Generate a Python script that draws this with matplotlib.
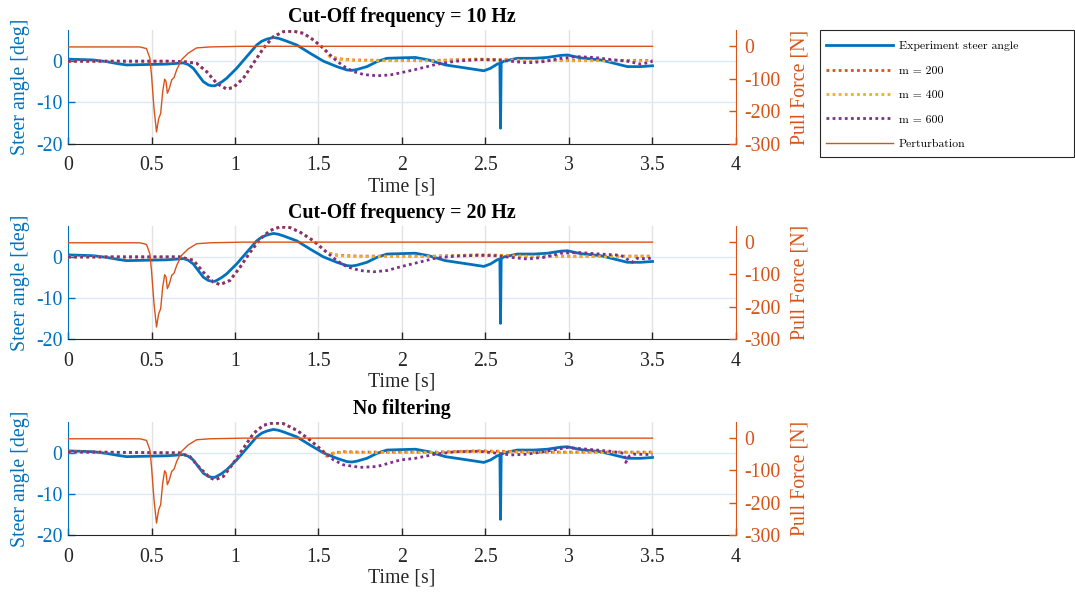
import matplotlib
matplotlib.use("Agg")
import matplotlib.pyplot as plt
from matplotlib.patches import Rectangle

plt.rcParams['font.family'] = ['Liberation Serif', 'DejaVu Serif']
plt.rcParams['axes.unicode_minus'] = False

# ---------------- data ----------------
titles = ["Cut-Off frequency = 10 Hz", "Cut-Off frequency = 20 Hz", "No filtering"]
legend_labels = ["Experiment steer angle", "m = 200", "m = 400", "m = 600", "Perturbation"]
x_ticks = [0, 0.5, 1, 1.5, 2, 2.5, 3, 3.5, 4]
x_tick_labels = ["0", "0.5", "1", "1.5", "2", "2.5", "3", "3.5", "4"]
left_ticks = [-20, -10, 0]
right_ticks = [-300, -200, -100, 0]

t_exp = [0, .15, .23, .30, .35, .47, .59, .66, .69, .72, .75, .78, .81, .84, .86, .88, .89,
         .92, .95, 1.01, 1.07, 1.13, 1.16, 1.19, 1.23, 1.26, 1.29, 1.37, 1.45, 1.53, 1.61,
         1.67, 1.70, 1.73, 1.79, 1.85, 1.91, 1.99, 2.08, 2.16, 2.26, 2.36, 2.49, 2.53, 2.57,
         2.586, 2.59, 2.594, 2.61, 2.69, 2.79, 2.87, 2.95, 2.99, 3.07, 3.19, 3.27, 3.35, 3.43,
         3.5]
steer_exp = [0.4, 0.2, -0.2, -0.7, -1.0, -0.9, -0.8, -0.6, -0.5, -0.9, -1.8, -3.4, -5.0,
             -5.8, -6.0, -6.0, -5.8, -5.1, -4.2, -1.8, 1.0, 3.8, 4.7, 5.2, 5.6, 5.4, 5.0, 3.8,
             1.8, -0.1, -1.4, -2.2, -2.3, -2.1, -1.4, -0.2, 0.6, 0.7, 0.8, 0.2, -1.0, -1.6,
             -2.4, -1.8, -0.8, -0.6, -16.2, -0.5, -0.1, 0.6, 0.6, 0.8, 1.3, 1.4, 0.7, 0.2,
             -0.6, -1.4, -1.4, -1.2]

t_pert = [0, .43, .47, .49, .50, .515, .53, .543, .555, .567, .579, .587, .595, .607, .621,
          .635, .651, .68, .72, .77, .85, 1.05, 2.0, 3.5]
pull_force = [-2, -2, -7, -36, -88, -191, -263, -222, -206, -139, -101, -108, -144, -129,
              -103, -96, -72, -41, -21, -5, -2, 0, 0, 0]

# Cut-off 10 Hz
t_m600_a = [0, .61, .69, .77, .83, .89, .95, .99, 1.05, 1.11, 1.17, 1.23, 1.29, 1.35, 1.41,
            1.47, 1.53, 1.59, 1.65, 1.71, 1.77, 1.85, 1.93, 1.99, 2.08, 2.20, 2.32, 2.46,
            2.56, 2.65, 2.75, 2.85, 2.95, 3.05, 3.15, 3.25, 3.35, 3.43, 3.48, 3.5]
m600_a = [-0.1, -0.1, -0.2, -0.6, -2.6, -5.4, -6.8, -6.4, -4.2, -0.6, 3.0, 5.8, 7.0, 7.1,
          6.6, 5.0, 3.0, 0.6, -1.3, -2.6, -3.3, -3.6, -3.4, -2.9, -2.1, -0.9, -0.1, 0.3,
          0.2, -0.1, -0.5, -0.2, 0.6, 1.0, 0.8, 0.3, -0.1, -0.8, -0.4, -0.1]
t_m200_a = [0, .61, .69, .77, .83, .89, .95, .99, 1.05, 1.11, 1.17, 1.23, 1.29, 1.35, 1.41,
            1.47, 1.53, 1.57, 1.62, 1.70, 1.90, 2.20, 2.45, 2.60, 2.80, 3.00, 3.20, 3.50]
m200_a = [-0.1, -0.1, -0.2, -0.6, -2.6, -5.4, -6.8, -6.4, -4.2, -0.6, 3.0, 5.8, 7.0, 7.1,
          6.6, 5.0, 3.0, 1.0, 0.5, 0.2, 0.1, 0.1, 0.4, 0.3, 0.1, 0.1, 0.1, 0.1]
m400_a = [-0.1, -0.1, -0.2, -0.6, -2.6, -5.4, -6.8, -6.4, -4.2, -0.6, 3.0, 5.8, 7.0, 7.1,
          6.6, 5.0, 3.0, 0.9, 0.4, 0.1, 0.0, 0.0, 0.3, 0.2, 0.0, 0.0, 0.0, 0.0]

# Cut-off 20 Hz
t_m600_b = [0, .67, .75, .81, .87, .91, .97, 1.03, 1.09, 1.15, 1.21, 1.27, 1.33, 1.39, 1.47,
            1.55, 1.61, 1.67, 1.75, 1.83, 1.91, 1.99, 2.08, 2.20, 2.32, 2.46, 2.56, 2.65,
            2.75, 2.85, 2.95, 3.05, 3.19, 3.31, 3.38, 3.41, 3.47, 3.5]
m600_b = [-0.1, -0.1, -0.9, -3.8, -6.2, -6.8, -5.8, -2.6, 1.0, 4.2, 6.3, 7.2, 7.0, 5.9, 3.8,
          1.0, -1.0, -2.5, -3.4, -3.7, -3.4, -2.5, -1.6, -0.4, 0.1, 0.3, 0.2, -0.2, -0.6,
          -0.2, 0.8, 1.0, 0.6, 0.3, -1.4, -0.4, -0.6, -0.2]
t_m200_b = [0, .67, .75, .81, .87, .91, .97, 1.03, 1.09, 1.15, 1.21, 1.27, 1.33, 1.39, 1.47,
            1.55, 1.60, 1.66, 1.75, 1.90, 2.20, 2.45, 2.60, 2.80, 3.00, 3.20, 3.50]
m200_b = [-0.1, -0.1, -0.9, -3.8, -6.2, -6.8, -5.8, -2.6, 1.0, 4.2, 6.3, 7.2, 7.0, 5.9, 3.8,
          1.0, 0.4, 0.2, 0.1, 0.1, 0.1, 0.4, 0.3, 0.1, 0.1, 0.1, 0.1]
m400_b = [-0.1, -0.1, -0.9, -3.8, -6.2, -6.8, -5.8, -2.6, 1.0, 4.2, 6.3, 7.2, 7.0, 5.9, 3.8,
          1.0, 0.3, 0.1, 0.0, 0.0, 0.0, 0.3, 0.2, 0.0, 0.0, 0.0, 0.0]

# No filtering
t_m600_c = [0, .67, .73, .79, .85, .88, .93, .99, 1.05, 1.11, 1.17, 1.23, 1.29, 1.37, 1.45,
            1.53, 1.59, 1.65, 1.75, 1.85, 1.99, 2.08, 2.20, 2.32, 2.46, 2.58, 2.65, 2.75,
            2.85, 2.99, 3.11, 3.25, 3.33, 3.34, 3.36, 3.39, 3.5]
m600_c = [0.15, -0.1, -1.0, -3.8, -6.1, -6.6, -5.8, -2.6, 1.0, 4.6, 6.6, 7.2, 7.0, 5.4, 3.0,
          0.2, -1.8, -3.0, -3.6, -3.4, -1.8, -1.4, -0.4, 0.2, 0.3, -0.2, -0.6, -0.4, 0.2,
          1.2, 0.8, 0.3, -0.2, -2.4, -0.9, -0.4, -0.5]
t_m200_c = [0, .67, .73, .79, .85, .88, .93, .99, 1.05, 1.11, 1.17, 1.23, 1.29, 1.37, 1.45,
            1.53, 1.55, 1.59, 1.65, 1.75, 1.90, 2.20, 2.45, 2.60, 2.80, 3.00, 3.20, 3.50]
m200_c = [0.15, -0.1, -1.0, -3.8, -6.1, -6.6, -5.8, -2.6, 1.0, 4.6, 6.6, 7.2, 7.0, 5.4, 3.0,
          0.2, -0.9, -0.1, 0.2, 0.1, 0.1, 0.1, 0.4, 0.3, 0.1, 0.1, 0.1, 0.1]
m400_c = [0.15, -0.1, -1.0, -3.8, -6.1, -6.6, -5.8, -2.6, 1.0, 4.6, 6.6, 7.2, 7.0, 5.4, 3.0,
          0.2, -0.7, -0.2, 0.1, 0.0, 0.0, 0.0, 0.3, 0.2, 0.0, 0.0, 0.0, 0.0]

panels = [
    (t_m200_a, m200_a, m400_a, t_m600_a, m600_a),
    (t_m200_b, m200_b, m400_b, t_m600_b, m600_b),
    (t_m200_c, m200_c, m400_c, t_m600_c, m600_c),
]

# ---------------- style ----------------
C_BLUE = '#0072BD'
C_ORANGE = '#D95319'
C_YELLOW = '#EDB120'
C_PURPLE = '#7E2F8E'
FS = 14.3
dot = (0, (1, 1.2))

fig = plt.figure(figsize=(10.75, 5.92), dpi=100)
W, H = 1075.0, 592.0
ax_left_px, ax_right_px = 68, 736
tops = [30, 226, 422]
bottoms = [144, 339, 535]

handles = None
for i, (tt2, v200, v400, tt6, v600) in enumerate(panels):
    pos = [ax_left_px / W, 1 - bottoms[i] / H, (ax_right_px - ax_left_px) / W,
           (bottoms[i] - tops[i]) / H]
    ax = fig.add_axes(pos)
    ax2 = ax.twinx()

    # grid
    ax.set_axisbelow(True)
    for xv in x_ticks[1:-1]:
        ax.axvline(xv, color='#e3e3e3', lw=1.0, zorder=0)
    for yv in left_ticks[1:]:
        ax.axhline(yv, color='#dce9f5', lw=1.0, zorder=0)

    h1, = ax.plot(t_exp, steer_exp, color=C_BLUE, lw=2.0, zorder=2)
    h2, = ax.plot(tt2, v200, color=C_ORANGE, lw=2.0, ls=dot, zorder=3)
    h3, = ax.plot(tt2, v400, color=C_YELLOW, lw=2.0, ls=dot, zorder=3)
    h4, = ax.plot(tt6, v600, color=C_PURPLE, lw=2.0, ls=dot, zorder=4)
    h5, = ax2.plot(t_pert, pull_force, color=C_ORANGE, lw=1.0)
    handles = [h1, h2, h3, h4, h5]

    ax.set_xlim(0, 4)
    ax.set_ylim(-20, 7.4)
    ax2.set_ylim(-300, 50)
    ax.set_xticks(x_ticks)
    ax.set_xticklabels(x_tick_labels)
    ax.set_yticks(left_ticks)
    ax2.set_yticks(right_ticks)

    for a in (ax, ax2):
        a.spines['top'].set_visible(False)
    ax.spines['right'].set_visible(False)
    ax2.spines['left'].set_visible(False)
    ax2.spines['bottom'].set_visible(False)
    ax.spines['left'].set_color(C_BLUE)
    ax2.spines['right'].set_color(C_ORANGE)
    ax.spines['bottom'].set_color('#262626')

    ax.tick_params(axis='x', direction='in', length=5, width=1, colors='#262626',
                   labelsize=FS, pad=9, labelcolor='#262626')
    ax.tick_params(axis='y', direction='in', length=5, width=1, colors=C_BLUE,
                   labelsize=FS, pad=4)
    ax2.tick_params(axis='y', direction='in', length=5, width=1, colors=C_ORANGE,
                    labelsize=FS, pad=6)

    ax.set_xlabel("Time [s]", fontsize=FS, color='#262626')
    ax.xaxis.set_label_coords(0.5, -0.295)
    ax.set_ylabel("Steer angle [deg]", fontsize=FS, color=C_BLUE)
    ax.yaxis.set_label_coords(-0.057, 0.5)
    ax2.set_ylabel("Pull Force [N]", fontsize=FS, color=C_ORANGE, rotation=90)
    ax2.yaxis.set_label_coords(1.082, 0.5)

    ax.text(0.5, 1.115, titles[i], transform=ax.transAxes, ha='center', va='center',
            fontsize=FS, fontweight='bold')

# legend
leg = fig.legend(handles, legend_labels, loc='upper left',
                 bbox_to_anchor=(826 / W, 1 - 41 / H), frameon=False,
                 prop={'family': 'cmr10', 'size': 8.5}, handlelength=5.7,
                 handletextpad=0.45, labelspacing=1.2, borderaxespad=0, borderpad=0)
fig.patches.append(Rectangle((820 / W, 1 - 157 / H), 254 / W, 127 / H,
                             transform=fig.transFigure, fill=True, facecolor='white',
                             edgecolor='#262626', lw=0.8, zorder=-1))

fig.savefig("out.png", dpi=100)
